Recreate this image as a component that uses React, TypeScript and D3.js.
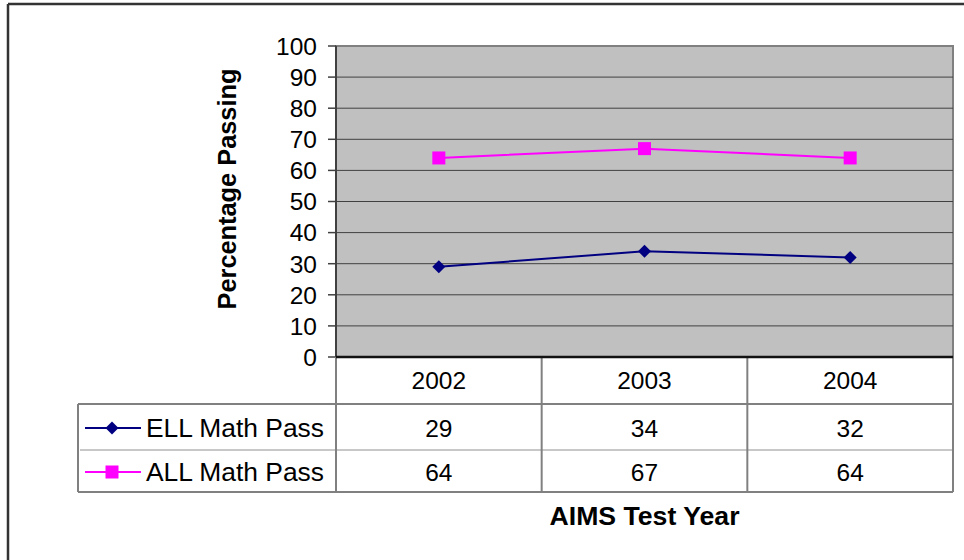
import React from "react";
import * as d3 from "d3";

const years = ["2002", "2003", "2004"];
const ellValues = [29, 34, 32];
const allValues = [64, 67, 64];
const yTicks = [0, 10, 20, 30, 40, 50, 60, 70, 80, 90, 100];
const seriesNames = ["ELL Math Pass", "ALL Math Pass"];
const seriesColors = ["#000080", "#FF00FF"];

const W = 964;
const H = 560;
const plot = { left: 336, right: 953, top: 46, bottom: 357 };
const tableLeft = 78;
const rowTops = [357, 404, 450, 492];
const FONT = "'Liberation Sans', Arial, sans-serif";

export default function App() {
  const x = d3
    .scaleBand<string>()
    .domain(years)
    .range([plot.left, plot.right])
    .padding(0);
  const y = d3.scaleLinear().domain([0, 100]).range([plot.bottom, plot.top]);
  const cx = (yr: string) => (x(yr) as number) + x.bandwidth() / 2;

  const line = d3
    .line<number>()
    .x((_, i) => cx(years[i]))
    .y((d) => y(d));

  const series = [ellValues, allValues];

  const diamond = (px: number, py: number, r: number) =>
    `M${px},${py - r}L${px + r},${py}L${px},${py + r}L${px - r},${py}Z`;

  const marker = (si: number, px: number, py: number, key: string) =>
    si === 0 ? (
      <path key={key} d={diamond(px, py, 6.5)} fill={seriesColors[0]} />
    ) : (
      <rect key={key} x={px - 6.5} y={py - 6.5} width={13} height={13} fill={seriesColors[1]} />
    );

  return (
    <svg
      width={W}
      height={H}
      style={{ position: "absolute", left: 0, top: 0, background: "#fff" }}
      fontFamily={FONT}
    >
      {/* outer chart border */}
      <line x1={8} y1={4} x2={W} y2={4} stroke="#333" strokeWidth={2.5} />
      <line x1={8} y1={4} x2={8} y2={H} stroke="#333" strokeWidth={2.5} />

      {/* plot area */}
      <rect
        x={plot.left}
        y={plot.top}
        width={plot.right - plot.left}
        height={plot.bottom - plot.top}
        fill="#C0C0C0"
        stroke="#808080"
        strokeWidth={2}
      />
      {yTicks.map((t) => (
        <g key={t}>
          {t > 0 && t < 100 && (
            <line x1={plot.left} x2={plot.right} y1={y(t)} y2={y(t)} stroke="#404040" strokeWidth={1} />
          )}
          <line x1={plot.left - 8} x2={plot.left} y1={y(t)} y2={y(t)} stroke="#404040" strokeWidth={1.5} />
          <text
            x={317}
            y={y(t)}
            dy="0.36em"
            textAnchor="end"
            fontSize={24.5}
            fill="#000"
          >
            {t}
          </text>
        </g>
      ))}
      <line x1={plot.left} x2={plot.left} y1={plot.top} y2={plot.bottom} stroke="#404040" strokeWidth={2} />

      {/* series */}
      {series.map((vals, si) => (
        <g key={si}>
          <path d={line(vals) as string} fill="none" stroke={seriesColors[si]} strokeWidth={2} />
          {vals.map((v, i) => marker(si, cx(years[i]), y(v), `m${si}${i}`))}
        </g>
      ))}

      {/* data table */}
      <line x1={tableLeft} x2={plot.right} y1={rowTops[1]} y2={rowTops[1]} stroke="#808080" strokeWidth={2} />
      <line x1={80} x2={plot.right} y1={rowTops[2]} y2={rowTops[2]} stroke="#909090" strokeWidth={1} />
      <line x1={tableLeft} x2={plot.right} y1={rowTops[3]} y2={rowTops[3]} stroke="#808080" strokeWidth={2} />
      <line x1={tableLeft} x2={tableLeft} y1={rowTops[1]} y2={rowTops[3]} stroke="#808080" strokeWidth={2} />
      {years.map((yr) => (
        <line
          key={yr}
          x1={x(yr) as number}
          x2={x(yr) as number}
          y1={rowTops[0]}
          y2={rowTops[3]}
          stroke="#808080"
          strokeWidth={2}
        />
      ))}
      <line x1={plot.right} x2={plot.right} y1={rowTops[0]} y2={rowTops[3]} stroke="#808080" strokeWidth={2} />
      <line x1={plot.left} x2={plot.right} y1={plot.bottom} y2={plot.bottom} stroke="#111" strokeWidth={2.5} />

      {years.map((yr) => (
        <text key={yr} x={cx(yr)} y={(rowTops[0] + rowTops[1]) / 2} dy="0.36em" textAnchor="middle" fontSize={24.5}>
          {yr}
        </text>
      ))}
      {series.map((vals, si) => {
        const rowMid = (rowTops[si + 1] + rowTops[si + 2]) / 2 + 1;
        return (
          <g key={`row${si}`}>
            <line x1={85} x2={141} y1={rowMid} y2={rowMid} stroke={seriesColors[si]} strokeWidth={2} />
            {marker(si, 112, rowMid, `lm${si}`)}
            <text
              x={146}
              y={rowMid}
              dy="0.36em"
              fontSize={25}
              textLength={178}
              lengthAdjust="spacingAndGlyphs"
            >
              {seriesNames[si]}
            </text>
            {vals.map((v, i) => (
              <text key={i} x={cx(years[i])} y={rowMid} dy="0.36em" textAnchor="middle" fontSize={24.5}>
                {v}
              </text>
            ))}
          </g>
        );
      })}

      {/* axis titles */}
      <text
        transform={`translate(236,189) rotate(-90)`}
        textAnchor="middle"
        fontSize={25}
        fontWeight="bold"
        textLength={241}
        lengthAdjust="spacingAndGlyphs"
      >
        Percentage Passing
      </text>
      <text
        x={(plot.left + plot.right) / 2}
        y={525}
        textAnchor="middle"
        fontSize={25}
        fontWeight="bold"
        textLength={190}
        lengthAdjust="spacingAndGlyphs"
      >
        AIMS Test Year
      </text>
    </svg>
  );
}
